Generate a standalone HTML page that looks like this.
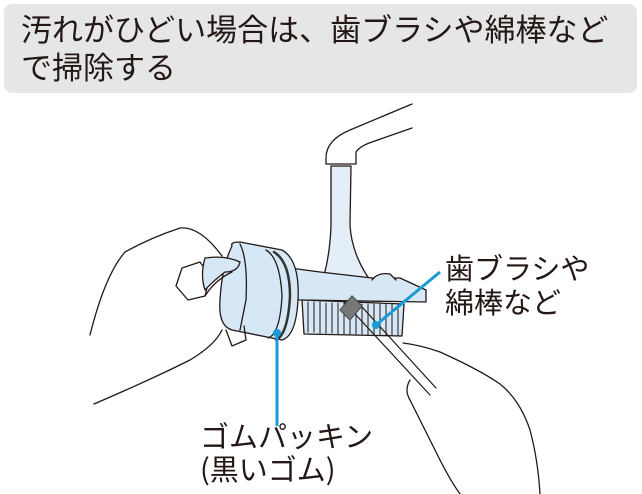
<!DOCTYPE html>
<html><head><meta charset="utf-8"><style>
html,body{margin:0;padding:0;background:#fff;width:642px;height:494px;overflow:hidden}
.hd{position:absolute;left:4px;top:4px;width:633px;height:89px;background:#e6e6e6;border-radius:8px}
.t{position:absolute;font-family:"Noto Sans CJK JP","Liberation Sans",sans-serif;color:#231815;white-space:nowrap}
</style></head><body>
<div class="hd"></div>
<div class="t" style="left:21px;top:9px;font-size:31px;line-height:38px;letter-spacing:0">汚れがひどい場合は、歯ブラシや綿棒など<br>で掃除する</div>
<svg style="position:absolute;left:0;top:0" width="642" height="494" viewBox="0 0 642 494">
<g fill="none" stroke="#231815" stroke-width="1.3" stroke-linejoin="round" stroke-linecap="round">
<path d="M412 104 L350 130 Q326 140 326 158 L326 164 L356 164 L356 152 Q360 146 372 142 L412 128" fill="#fff"/>
<path d="M331 166 L331 225 Q330 262 318 295 L382 295 Q352 262 350 225 L351 166 Z" fill="#e3eef8"/>
<path d="M290 268 L320 272 L372 278 L400 278 L426 290 L426 302 L300 300 L290 298 Z" fill="#d6e8f6"/>
<path d="M372 280 Q378 272 390 274 L396 280" fill="#d6e8f6"/>
<path d="M302 300 L404 304 L402 336 L304 334 Z" fill="#d6e8f6"/>
<path d="M308 302 V332 M314 302 V332 M320 302 V333 M326 303 V333 M332 303 V333 M338 303 V334 M344 303 V334 M350 304 V334 M356 304 V334 M362 304 V334 M368 304 V335 M374 304 V335 M380 304 V335 M386 304 V335 M392 304 V335 M398 304 V335" stroke-width="1"/>
<path d="M232 246 Q230 242 240 242 L282 250 Q300 260 298 300 Q296 336 282 340 L232 330 Q218 326 220 300 Q222 266 232 246 Z" fill="#d6e8f6"/>
<path d="M266 250 Q280 258 282 296 Q280 334 268 338" />
<path d="M274 252 Q290 262 290 296 Q288 334 276 340" stroke-width="2.5" stroke="#333"/>
<path d="M240 244 Q248 260 246 300 L240 330"/>
<path d="M226 330 L232 346 L246 340 L244 326"/>
<path d="M90 335 Q105 275 125 252 Q150 238 180 228 Q200 226 222 256" />
<path d="M94 404 Q150 380 190 360 Q215 345 222 330"/>
<path d="M182 268 L200 262 L210 276 L205 296 L188 300 L176 286 Z" fill="#fff"/>
<path d="M205 258 Q225 255 240 262 Q238 272 225 272 Q212 282 205 290 Q200 275 205 258 Z" fill="#d6e8f6"/>
<path d="M205 296 Q215 280 232 272"/>
<path d="M403 343 Q420 345 440 352 Q480 370 500 384 Q520 400 530 430 Q538 460 540 494" fill="none"/>
<path d="M410 380 Q404 390 410 400 Q425 430 440 460 Q450 480 460 494"/>
<path d="M344 302 L430 395 M352 296 L436 388" stroke-width="1.2"/>
<path d="M340 310 L352 296 L362 306 L350 320 Z" fill="#777" stroke="#555"/>
</g>
<g stroke="#1a9ad6" stroke-width="3" fill="#1a9ad6">
<line x1="277" y1="333" x2="277" y2="426"/>
<circle cx="277" cy="333" r="4" stroke="none"/>
<line x1="376" y1="325" x2="440" y2="272"/>
<circle cx="376" cy="325" r="4" stroke="none"/>
</g>
</svg>
<div class="t" style="left:445px;top:250px;font-size:29px;line-height:34px">歯ブラシや<br>綿棒など</div>
<div class="t" style="left:200px;top:419px;font-size:29px;line-height:33px">ゴムパッキン<br>(黒いゴム)</div>
</body></html>
